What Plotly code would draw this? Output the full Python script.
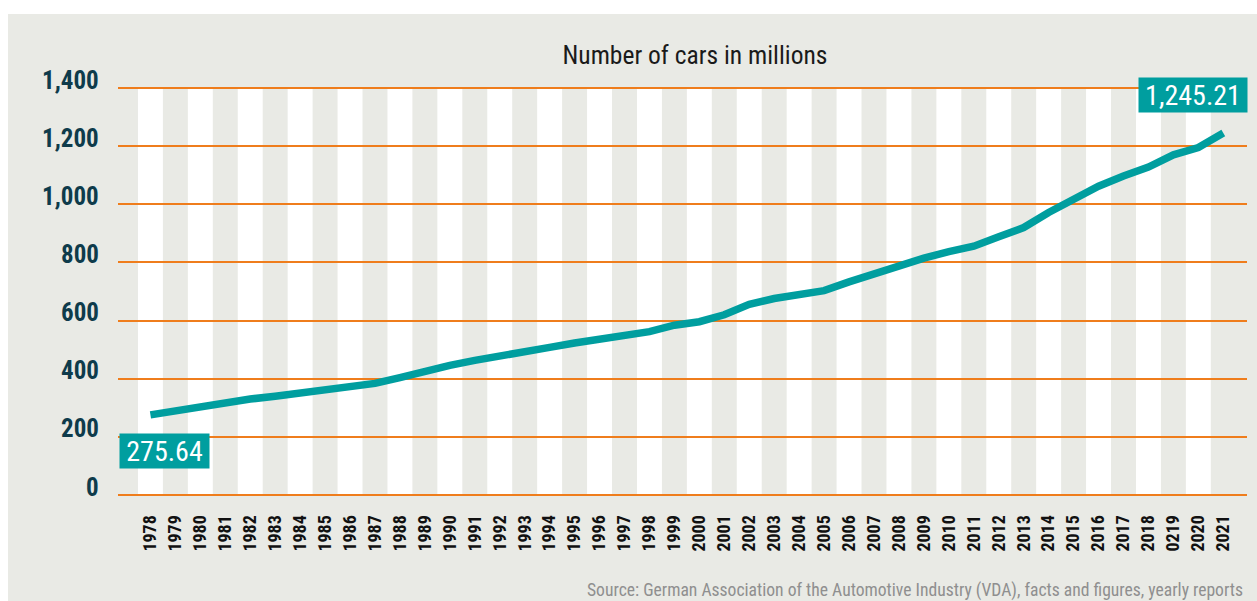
import plotly.graph_objects as go

# Passenger cars worldwide, millions
years = list(range(1978, 2022))
cars = [275.64, 290, 303, 318, 330, 340, 351, 360, 370, 384,
        404, 427, 446, 463, 480, 495, 508, 523, 537, 549,
        562, 584, 596, 620, 656, 676, 689, 703, 733, 762,
        790, 815, 837, 856, 888, 920, 972, 1015, 1062, 1097,
        1128, 1170, 1195, 1245.21]
year_labels = [str(y) for y in years]
year_labels[years.index(2019)] = "0219"
y_ticks = [0, 200, 400, 600, 800, 1000, 1200, 1400]
y_tick_labels = ["0", "200", "400", "600", "800", "1,000", "1,200", "1,400"]

TEAL = "#009e9f"
ORANGE = "#ef7d1c"
PANEL = "#e9eae5"
NAVY = "#0e3b4b"
NARROW = ("Noto Sans Condensed, Noto Sans ExtraCondensed, Roboto Condensed, "
          "Liberation Sans Narrow, DejaVu Sans Condensed, sans-serif")

W, H = 1257, 601
L, R, T, B = 118, 10, 86, 104
pw, ph = W - L - R, H - T - B
# 0 -> y=495 px and 1400 -> y=88 px, two pixels of slack on each side so the
# end grid lines are kept
pad = 2 * 1400 / 407
y_range = [-pad, 1400 + pad]


def py_to_paper(y_px):
    return (T + ph - y_px) / ph


fig = go.Figure()
fig.add_trace(go.Scatter(
    x=years, y=cars, mode="lines",
    line=dict(color=TEAL, width=7.5),
    hoverinfo="x+y", showlegend=False,
))

shapes = [
    # light grey card behind the whole chart
    dict(type="rect", xref="paper", yref="paper",
         x0=(8 - L) / pw, x1=(W - L) / pw,
         y0=py_to_paper(H), y1=py_to_paper(14),
         fillcolor=PANEL, line=dict(width=0), layer="below"),
]
# alternating white year columns
for i, yr in enumerate(years):
    if i % 2 == 0:
        shapes.append(dict(type="rect", xref="x", yref="y",
                           x0=yr - 0.5, x1=yr + 0.5, y0=0, y1=1400,
                           fillcolor="white", line=dict(width=0), layer="below"))

annotations = []
# y-axis labels sit just above their grid lines
for v, t in zip(y_ticks, y_tick_labels):
    annotations.append(dict(
        x=0, xref="paper", y=v, yref="y", text=t, showarrow=False,
        xanchor="right", yanchor="middle", xshift=-17, yshift=8,
        font=dict(family=NARROW, size=25, color=NAVY, weight="bold"),
    ))

# first and last values
annotations.append(dict(
    x=years[0], y=cars[0], xref="x", yref="y",
    text=f"{cars[0]:,.2f}", showarrow=False,
    xanchor="left", yanchor="top", xshift=-31.5, yshift=-18,
    width=89, height=34, borderpad=0, bgcolor=TEAL,
    font=dict(family=NARROW, size=28, color="white"),
))
annotations.append(dict(
    x=years[-1], y=cars[-1], xref="x", yref="y",
    text=f"{cars[-1]:,.2f}", showarrow=False,
    xanchor="right", yanchor="bottom", xshift=25, yshift=20,
    width=108, height=34, borderpad=0, bgcolor=TEAL,
    font=dict(family=NARROW, size=28, color="white"),
))

annotations.append(dict(
    x=(1245 - L) / pw, xref="paper", y=py_to_paper(590), yref="paper",
    text="Source: German Association of the Automotive Industry (VDA), facts and figures, yearly reports",
    showarrow=False, xanchor="right", yanchor="middle",
    font=dict(family=NARROW, size=17.6, color="#8f8f8f"),
))

fig.update_layout(
    width=W, height=H,
    margin=dict(l=L, r=R, t=T, b=B),
    paper_bgcolor="white",
    plot_bgcolor=PANEL,
    title=dict(text="Number of cars in millions", x=695 / W, xanchor="center",
               y=1 - 55 / H, yanchor="middle",
               font=dict(family=NARROW, size=25.5, color="#1a1a1a")),
    xaxis=dict(
        range=[1976.70, 2021.95],
        tickvals=years, ticktext=year_labels, tickangle=-90,
        tickfont=dict(family=NARROW, size=18, color="#111111", weight="bold"),
        ticks="outside", ticklen=10, tickcolor="rgba(0,0,0,0)",
        showgrid=False, zeroline=False, showline=False, fixedrange=True,
    ),
    yaxis=dict(
        range=y_range, tickvals=y_ticks, showticklabels=False,
        showgrid=True, gridcolor=ORANGE, gridwidth=1.6,
        zeroline=True, zerolinecolor=ORANGE, zerolinewidth=1.6,
        showline=False, fixedrange=True,
    ),
    shapes=shapes,
    annotations=annotations,
)

fig.write_html("out.html")
